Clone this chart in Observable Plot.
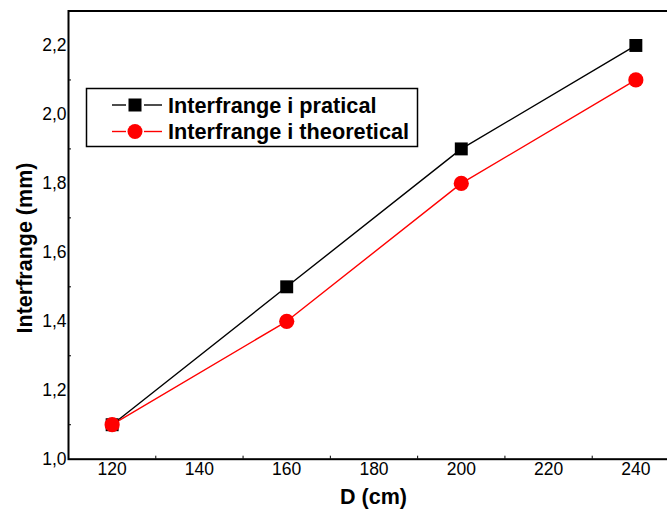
<!DOCTYPE html>
<html>
<head>
<meta charset="utf-8">
<script src="https://cdn.jsdelivr.net/npm/d3@7"></script>
<script src="https://cdn.jsdelivr.net/npm/@observablehq/plot@0.6"></script>
<style>
  html, body { margin: 0; padding: 0; background: #fff; }
  #chart { position: relative; width: 667px; height: 510px; }
  svg { font-family: "Liberation Sans", Arial, sans-serif; }
</style>
</head>
<body>
<div id="chart"></div>
<script>
// ---- data ----
const distances = [120, 160, 200, 240];                 // D (cm)
const practical = [1.1, 1.5, 1.9, 2.2];                 // Interfrange i pratical (mm)
const theoretical = [1.1, 1.4, 1.8, 2.1];               // Interfrange i theoretical (mm)
const seriesNames = ["Interfrange i pratical", "Interfrange i theoretical"];
const xTicks = [120, 140, 160, 180, 200, 220, 240];
const xMinor = [130, 150, 170, 190, 210, 230, 250];
const yTicks = [1.0, 1.2, 1.4, 1.6, 1.8, 2.0, 2.2];
const yTickLabels = ["1,0", "1,2", "1,4", "1,6", "1,8", "2,0", "2,2"];
const yMinor = [1.1, 1.3, 1.5, 1.7, 1.9, 2.1, 2.3];
const xTitle = "D (cm)";
const yTitle = "Interfrange (mm)";

const rowsP = distances.map((d, i) => ({D: d, v: practical[i]}));
const rowsT = distances.map((d, i) => ({D: d, v: theoretical[i]}));

const W = 667, H = 510;
const mL = 68, mR = -12, mT = 10.5, mB = 51.3;
const frameW = W - mR - mL, frameH = H - mT - mB;

const chart = Plot.plot({
  width: W, height: H,
  marginLeft: mL, marginRight: mR, marginTop: mT, marginBottom: mB,
  style: {fontFamily: '"Liberation Sans", Arial, sans-serif', background: "#fff"},
  x: {domain: [110, 250]},
  y: {domain: [1.0, 2.3]},
  marks: [
    Plot.axisX({ticks: xTicks, tickSize: 0, tickPadding: 3, fontSize: 17.5, fill: "#000", label: null}),
    Plot.axisY({ticks: yTicks, tickSize: 0, tickPadding: 2, fontSize: 17.5, fill: "#000", label: null,
      tickFormat: (d) => yTickLabels[yTicks.findIndex(t => Math.abs(t - d) < 1e-9)]}),
    Plot.ruleX(xMinor, {x: d => d, stroke: "#000", strokeWidth: 1, insetTop: frameH - 3}),
    Plot.ruleY(yMinor, {y: d => d, stroke: "#000", strokeWidth: 1, insetRight: frameW - 3}),
    Plot.frame({stroke: "#000", strokeWidth: 2}),
    Plot.line(rowsP, {x: "D", y: "v", stroke: "#000", strokeWidth: 1.4}),
    Plot.line(rowsT, {x: "D", y: "v", stroke: "#ff0000", strokeWidth: 1.4}),
    Plot.dot(rowsP, {x: "D", y: "v", symbol: "square", r: 7.3, fill: "#000", stroke: "none"}),
    Plot.dot(rowsT, {x: "D", y: "v", symbol: "circle", r: 7.6, fill: "#ff0000", stroke: "none"})
  ]
});
document.getElementById("chart").appendChild(chart);

// ---- titles and legend (decoration, in pixel space) ----
const svg = d3.select(chart);
svg.append("text")
  .attr("x", 373.5).attr("y", 504)
  .attr("text-anchor", "middle")
  .attr("font-size", 21.5).attr("font-weight", "bold").attr("fill", "#000")
  .text(xTitle);
svg.append("text")
  .attr("transform", "translate(31.5,248) rotate(-90)")
  .attr("text-anchor", "middle")
  .attr("font-size", 21.5).attr("font-weight", "bold").attr("fill", "#000")
  .text(yTitle);

const lg = svg.append("g").attr("text-anchor", "start");
lg.append("rect").attr("x", 86.5).attr("y", 88.5).attr("width", 331).attr("height", 58)
  .attr("fill", "#fff").attr("stroke", "#000").attr("stroke-width", 1.5);
const legendRows = [
  {name: seriesNames[0], color: "#000", sym: "square", y: 105},
  {name: seriesNames[1], color: "#ff0000", sym: "circle", y: 131.5}
];
legendRows.forEach(r => {
  lg.append("line").attr("x1", 112).attr("x2", 126).attr("y1", r.y).attr("y2", r.y)
    .attr("stroke", r.color).attr("stroke-width", 1.4);
  lg.append("line").attr("x1", 144).attr("x2", 162).attr("y1", r.y).attr("y2", r.y)
    .attr("stroke", r.color).attr("stroke-width", 1.4);
  if (r.sym === "square") {
    lg.append("rect").attr("x", 135 - 6.5).attr("y", r.y - 6.5).attr("width", 13).attr("height", 13).attr("fill", r.color);
  } else {
    lg.append("circle").attr("cx", 135).attr("cy", r.y).attr("r", 7.5).attr("fill", r.color);
  }
  lg.append("text").attr("x", 168).attr("y", r.y).attr("dy", "0.36em")
    .attr("text-anchor", "start")
    .attr("font-size", 21.7).attr("font-weight", "bold").attr("fill", "#000")
    .text(r.name);
});
</script>
</body>
</html>
